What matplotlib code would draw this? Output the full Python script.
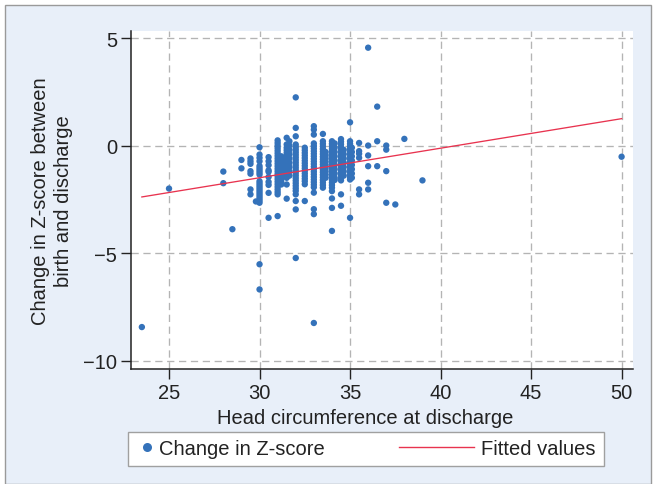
import numpy as np
import matplotlib.pyplot as plt
from matplotlib.patches import Rectangle
from matplotlib.lines import Line2D

plt.rcParams['font.family'] = ['Liberation Sans', 'DejaVu Sans']

# head circumference columns and the z-score changes observed in each
hc_cols = [23.5, 25, 28, 28.5, 29, 29.5, 29.8, 30, 30.5, 31, 31.2, 31.5, 31.65,
           32, 32.5, 33, 33.5, 33.65, 34, 34.15, 34.5, 34.65, 35, 35.1,
           35.5, 36, 36.5, 37, 37.5, 38, 39, 50]
z_change = [
    [-8.44],
    [-2.0],
    [-1.21, -1.75],
    [-3.89],
    [-0.67, -1.06],
    [-0.60, -0.73, -0.85, -1.19, -1.31, -2.04, -2.27],
    [-2.60],
    [-0.08, -0.42, -0.57, -0.73, -0.95, -1.05, -1.15, -1.25, -1.35, -1.66, -1.76,
     -1.86, -1.96, -2.06, -2.16, -2.26, -2.36, -2.46, -2.56, -2.66, -5.52, -6.69],
    [-0.54, -0.73, -0.91, -1.15, -1.22, -1.46, -1.69, -1.83, -2.20, -3.36],
    [0.24, 0.12, 0.0, -0.12, -0.24, -0.36, -0.48, -0.6, -0.72, -0.84, -0.96, -1.08,
     -1.2, -1.32, -1.44, -1.56, -1.68, -1.8, -1.92, -2.04, -2.16, -2.27, -3.28],
    [-0.5, -0.62, -0.74, -0.86, -0.98, -1.1, -1.22, -1.34, -1.46, -1.58, -1.7, -1.81],
    [0.36, 0.05, -0.1, -0.22, -0.34, -0.46, -0.58, -0.7, -0.82, -0.94, -1.06, -1.18,
     -1.3, -1.42, -1.5, -1.81, -2.47],
    [0.2, 0.0, -0.2, -0.4, -0.6, -0.8, -1.0, -1.2, -1.4],
    [2.24, 0.82, 0.43, 0.05, -0.07, -0.19, -0.31, -0.43, -0.55, -0.67, -0.79, -0.91,
     -1.03, -1.15, -1.27, -1.39, -1.51, -1.63, -1.75, -1.87, -1.99, -2.11, -2.27,
     -2.58, -2.97, -5.23],
    [-0.1, -0.22, -0.34, -0.46, -0.58, -0.7, -0.82, -0.94, -1.06, -1.18, -1.3, -1.42,
     -1.54, -1.66, -1.8, -2.58],
    [0.9, 0.74, 0.51, 0.1, -0.02, -0.14, -0.26, -0.38, -0.5, -0.62, -0.74, -0.86,
     -0.98, -1.1, -1.22, -1.34, -1.46, -1.58, -1.7, -1.82, -1.94, -2.19, -2.96,
     -3.19, -8.25],
    [0.54, 0.2, 0.08, -0.04, -0.16, -0.28, -0.4, -0.52, -0.64, -0.76, -0.88, -1.0,
     -1.12, -1.24, -1.36, -1.48, -1.6, -1.72, -1.84, -1.96],
    [-0.3, -0.45, -0.6, -0.75, -0.9, -1.05, -1.2, -1.35, -1.5],
    [0.2, 0.08, -0.04, -0.16, -0.28, -0.4, -0.52, -0.64, -0.76, -0.88, -1.0, -1.12,
     -1.24, -1.36, -1.48, -1.6, -1.72, -1.84, -1.96, -2.12, -2.46, -2.9, -3.97],
    [0.1, -0.1, -0.3, -0.5, -0.7, -0.9, -1.1, -1.3, -1.5, -1.6],
    [0.3, 0.18, 0.06, -0.06, -0.18, -0.3, -0.42, -0.54, -0.66, -0.78, -0.9, -1.02,
     -1.14, -1.26, -1.38, -1.5, -1.62, -2.27, -2.8],
    [-0.2, -0.4, -0.6, -0.8, -1.0, -1.2, -1.4],
    [1.08, 0.2, 0.08, -0.04, -0.16, -0.28, -0.4, -0.52, -0.64, -0.76, -0.88, -1.0,
     -1.12, -1.24, -1.36, -1.48, -1.58, -3.36],
    [-0.1, -0.3, -0.5, -0.7, -0.9, -1.1, -1.3, -1.5],
    [0.12, -0.26, -0.38, -0.57, -2.04, -2.27],
    [4.55, 0.0, -0.46, -0.96, -1.73, -2.04],
    [1.81, 0.2, -0.96],
    [0.0, -0.19, -1.19, -2.66],
    [-2.74],
    [0.31],
    [-1.62],
    [-0.52],
]

# fitted regression line end points
fit_x = [23.5, 50]
fit_y = [-2.39, 1.25]

x_ticks = [25, 30, 35, 40, 45, 50]
y_ticks = [-10, -5, 0, 5]

xs = np.concatenate([[c] * len(v) for c, v in zip(hc_cols, z_change)])
ys = np.concatenate(z_change)

W, H = 654, 485
fig = plt.figure(figsize=(W / 100, H / 100), dpi=100, facecolor='white')
fig.add_artist(Rectangle((5 / W, 0), 646 / W, 479 / H, transform=fig.transFigure,
                         facecolor='#E8EFF9', edgecolor='#9A9A9A', lw=1, zorder=-1))

ax = fig.add_axes([131 / W, 1 - 370 / H, 502 / W, 338.3 / H])
ax.set_facecolor('white')

dot_col = '#3472BA'
line_col = '#E8334F'
ax.scatter(xs, ys, s=21, color=dot_col, edgecolors='none', zorder=3)
ax.plot(fit_x, fit_y, color=line_col, lw=0.95, zorder=4)

ax.set_xlim(22.9, 50.63)
ax.set_ylim(-10.39, 5.34)
ax.set_xticks(x_ticks)
ax.set_yticks(y_ticks)
ax.grid(True, color='#B4B4B4', ls=(0, (5.5, 3.5)), lw=0.95)
ax.set_axisbelow(True)
for s in ['top', 'right']:
    ax.spines[s].set_visible(False)
for s in ['left', 'bottom']:
    ax.spines[s].set_color('#222222')
    ax.spines[s].set_linewidth(1.1)
ax.tick_params(length=7, width=1, color='#222222', pad=3, labelsize=14.5,
               labelcolor='#222222')

fig.text(365.5 / W, 1 - 418 / H, 'Head circumference at discharge', ha='center',
         va='center', fontsize=14.5, color='#222222')
fig.text(52 / W, 1 - 201 / H, 'Change in Z-score between\nbirth and discharge',
         ha='center', va='center', rotation=90, fontsize=14.5, color='#222222',
         linespacing=1.25)

# legend box
fig.add_artist(Rectangle((128 / W, 1 - 467 / H), 476 / W, 34 / H,
                         transform=fig.transFigure, facecolor='white',
                         edgecolor='#A0A0A0', lw=1, zorder=1))
h1 = Line2D([], [], ls='none', marker='o', markersize=6.5, color=dot_col,
            markeredgewidth=0)
h2 = Line2D([], [], color=line_col, lw=1)
leg1 = fig.legend([h1], ['Change in Z-score'], loc='center left',
                  bbox_to_anchor=(137 / W, 1 - 450 / H), frameon=False,
                  fontsize=14.5, handlelength=1.0, handletextpad=0.1,
                  borderpad=0, borderaxespad=0, labelcolor='#222222')
leg2 = fig.legend([h2], ['Fitted values'], loc='center left',
                  bbox_to_anchor=(399 / W, 1 - 450 / H), frameon=False,
                  fontsize=14.5, handlelength=3.7, handletextpad=0.35,
                  borderpad=0, borderaxespad=0, labelcolor='#222222')

fig.savefig('out.png', dpi=100, facecolor=fig.get_facecolor())
